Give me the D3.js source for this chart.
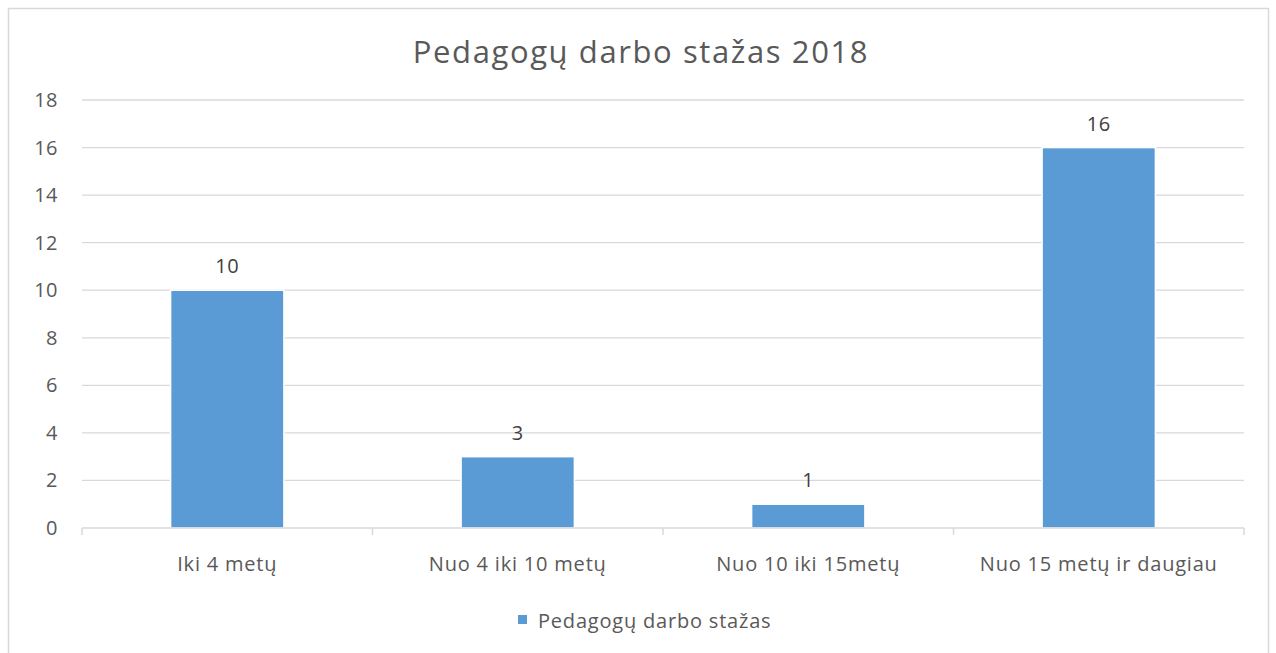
<!DOCTYPE html>
<html>
<head>
<meta charset="utf-8">
<script src="https://cdn.jsdelivr.net/npm/d3@7"></script>
<style>
    body { margin: 0; background: #fff; }
    text { font-family: "Open Sans", sans-serif; fill: #595959; }
</style>
</head>
<body>
<div id="bar_chart"></div>
<script>
// data ========================================================================
var categories = ["Iki 4 metų", "Nuo 4 iki 10 metų", "Nuo 10 iki 15metų", "Nuo 15 metų ir daugiau"];
var values = [10, 3, 1, 16];
var yTicks = [0, 2, 4, 6, 8, 10, 12, 14, 16, 18];
var seriesName = "Pedagogų darbo stažas";
var chartTitle = "Pedagogų darbo stažas 2018";

// sizes =======================================================================
var width = 1276, height = 653;
var _margin = { top: 100, right: 32, bottom: 125, left: 82 };
var _plotWidth = width - _margin.left - _margin.right;
var _plotHeight = 528 - _margin.top;

var _svg = d3.select("#bar_chart").append("svg")
    .attr("width", width)
    .attr("height", height);

// chart frame (bottom edge is off-screen)
_svg.append("rect")
    .attr("x", 8.5).attr("y", 8.5)
    .attr("width", 1260).attr("height", 700)
    .attr("fill", "none")
    .attr("stroke", "#d9d9d9")
    .attr("stroke-width", 1.5);

_svg.append("text")
    .attr("x", 641)
    .attr("y", 63)
    .attr("text-anchor", "middle")
    .style("font-size", "31px")
    .style("letter-spacing", "1.6px")
    .text(chartTitle);

var _chart = _svg.append("g")
    .attr("transform", "translate(" + _margin.left + "," + _margin.top + ")");

var x = d3.scaleBand()
    .domain(categories)
    .range([0, _plotWidth])
    .paddingInner(0.61)
    .paddingOuter(0.305);

var y = d3.scaleLinear()
    .domain([0, 18])
    .range([_plotHeight, 0]);

// gridlines
_chart.append("g")
    .selectAll("line")
    .data(yTicks.filter(function (d) { return d > 0; }))
    .join("line")
    .attr("x1", 0)
    .attr("x2", _plotWidth)
    .attr("y1", function (d) { return y(d); })
    .attr("y2", function (d) { return y(d); })
    .attr("stroke", "#d9d9d9")
    .attr("stroke-width", 1.3);

// y tick labels
_chart.append("g")
    .selectAll("text")
    .data(yTicks)
    .join("text")
    .attr("x", -24)
    .attr("y", function (d) { return y(d); })
    .attr("dy", "0.35em")
    .attr("text-anchor", "end")
    .style("font-size", "20px")
    .style("letter-spacing", "0.5px")
    .text(function (d) { return d; });

// bars
_chart.append("g")
    .selectAll("rect")
    .data(values)
    .join("rect")
    .attr("x", function (d, i) { return x(categories[i]); })
    .attr("y", function (d) { return y(d); })
    .attr("width", x.bandwidth())
    .attr("height", function (d) { return _plotHeight - y(d); })
    .attr("fill", "#5b9bd5")
    .attr("stroke", "#fff")
    .attr("stroke-width", 1.5);

// data labels
_chart.append("g")
    .selectAll("text")
    .data(values)
    .join("text")
    .attr("x", function (d, i) { return x(categories[i]) + x.bandwidth() / 2; })
    .attr("y", function (d) { return y(d) - 17; })
    .attr("text-anchor", "middle")
    .style("font-size", "20px")
    .style("fill", "#404040")
    .style("letter-spacing", "0.5px")
    .text(function (d) { return d; });

// x axis
var xAxis = _chart.append("g")
    .attr("transform", "translate(0," + _plotHeight + ")");
xAxis.append("line")
    .attr("x1", 0).attr("x2", _plotWidth)
    .attr("stroke", "#d9d9d9")
    .attr("stroke-width", 1.5);
var step = _plotWidth / categories.length;
xAxis.selectAll("line.tick")
    .data(d3.range(categories.length + 1))
    .join("line")
    .attr("class", "tick")
    .attr("x1", function (d) { return d * step; })
    .attr("x2", function (d) { return d * step; })
    .attr("y1", 0).attr("y2", 7)
    .attr("stroke", "#d9d9d9")
    .attr("stroke-width", 1.5);
xAxis.selectAll("text")
    .data(categories)
    .join("text")
    .attr("x", function (d) { return x(d) + x.bandwidth() / 2; })
    .attr("y", 43)
    .attr("text-anchor", "middle")
    .style("font-size", "20px")
    .style("letter-spacing", "0.8px")
    .text(function (d) { return d; });

// legend
var legend = _svg.append("g");
legend.append("rect")
    .attr("x", 518).attr("y", 615)
    .attr("width", 9).attr("height", 9)
    .attr("fill", "#5b9bd5");
legend.append("text")
    .attr("x", 538)
    .attr("y", 628)
    .style("font-size", "20px")
    .style("letter-spacing", "0.8px")
    .text(seriesName);
</script>
</body>
</html>
